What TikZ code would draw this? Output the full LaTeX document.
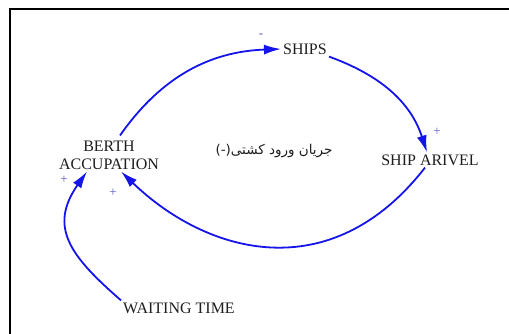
\documentclass[tikz,border=0pt]{standalone}
\usepackage{fontspec}
\setmainfont{Liberation Serif}
\newfontfamily\arabicfont[Script=Arabic]{DejaVu Sans}
\TeXXeTstate=1
\usetikzlibrary{arrows.meta, positioning}
\definecolor{linkblue}{RGB}{20,20,235}
\definecolor{signblue}{RGB}{90,90,200}
\definecolor{labelgray}{RGB}{30,30,30}

\begin{document}
\begin{tikzpicture}[x=1bp, y=1bp,
  var/.style={text=labelgray, font=\fontsize{16bp}{18bp}\selectfont,
    inner sep=2bp, align=center},
  link/.style={draw=linkblue, line width=1.8bp, -{Latex[length=17bp,width=10bp]}},
  sign/.style={text=signblue, font=\fontsize{13bp}{13bp}\selectfont, inner sep=0pt}]
  \useasboundingbox (0,0) rectangle (509,333);
  \clip (0,0) rectangle (509,333);
  \draw[line width=2bp] (10,324) rectangle (520,-10);

  \node[var] (ships) at (305,284) {SHIPS};
  \node[var] (arrival) at (430,173) {SHIP ARIVEL};
  \node[var] (berth) at (109,178) {BERTH\\ACCUPATION};
  \node[var] (waiting) at (179,25) {WAITING TIME};
  \node[text=labelgray, font=\arabicfont\fontsize{13.5bp}{14bp}\selectfont]
    (loop) at (274,182) {\beginR جریان ورود کشتی(-)\endR};

  % polarities
  \node[sign] (minus1) at (261,297) {-};
  \node[sign] (plus1) at (437,201) {+};
  \node[sign] (plus2) at (113,140) {+};
  \node[sign] (plus3) at (64,153) {+};

  \draw[link] ([xshift=11bp,yshift=3bp]berth.north) to[out=55, in=182] (ships.west);
  \draw[link] (ships.south east) to[out=-20, in=108] ([xshift=-3bp]arrival.north);
  \draw[link] ([xshift=-5bp]arrival.south) .. controls +(-95,-122) and +(85,-82)
    .. ([xshift=12bp]berth.south);
  \draw[link] (waiting.north west) to[out=139, in=235, looseness=1.3]
    ([xshift=-22bp]berth.south);
\end{tikzpicture}
\end{document}
